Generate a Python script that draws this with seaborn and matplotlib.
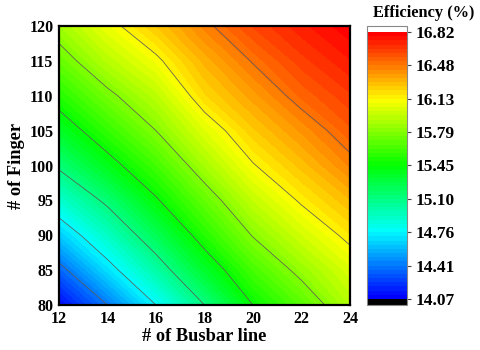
import numpy as np
import matplotlib
matplotlib.use("Agg")
import matplotlib.pyplot as plt
from matplotlib.colors import LinearSegmentedColormap, ListedColormap
import seaborn as sns

# ---- data ----
busbar = [12, 14, 16, 18, 20, 22, 24]
finger = [80, 85, 90, 95, 100, 105, 110, 115, 120]
efficiency = [
    [14.10, 14.41, 14.76, 15.10, 15.45, 15.67, 15.92],  # 80
    [14.35, 14.69, 15.00, 15.33, 15.62, 15.84, 16.03],  # 85
    [14.63, 14.92, 15.22, 15.53, 15.80, 16.00, 16.17],  # 90
    [14.89, 15.14, 15.43, 15.70, 15.96, 16.15, 16.30],  # 95
    [15.13, 15.38, 15.61, 15.88, 16.12, 16.28, 16.44],  # 100
    [15.34, 15.57, 15.79, 16.04, 16.25, 16.40, 16.55],  # 105
    [15.53, 15.75, 15.94, 16.21, 16.37, 16.53, 16.64],  # 110
    [15.71, 15.93, 16.10, 16.32, 16.49, 16.63, 16.73],  # 115
    [15.87, 16.08, 16.26, 16.45, 16.61, 16.72, 16.81],  # 120
]
cbar_ticks = [14.07, 14.41, 14.76, 15.10, 15.45, 15.79, 16.13, 16.48, 16.82]
cbar_labels = ["14.07", "14.41", "14.76", "15.10", "15.45", "15.79", "16.13", "16.48", "16.82"]
line_levels = cbar_ticks[1:-1]
xticks = [12, 14, 16, 18, 20, 22, 24]
yticks = [80, 85, 90, 95, 100, 105, 110, 115, 120]

sns.set_style("ticks")
plt.rcParams["font.family"] = ["Liberation Serif", "DejaVu Serif"]
plt.rcParams["font.weight"] = "bold"
plt.rcParams["text.color"] = "black"
plt.rcParams["axes.labelcolor"] = "black"

vmin, vmax = cbar_ticks[0], cbar_ticks[-1]
nb = 64
levels = np.linspace(vmin, vmax, nb + 1)
base = LinearSegmentedColormap.from_list(
    "rb", [(0, (0, 0, 1)), (0.25, (0, 1, 1)), (0.5, (0, 1, 0)),
           (0.75, (1, 1, 0)), (1.0, (1, 0, 0))])
cmap = ListedColormap(base(np.linspace(0, 1, nb)))
cmap.set_under("black")
cmap.set_over("white")

fig = plt.figure(figsize=(4.81, 3.5), dpi=100)
ax = fig.add_axes([59 / 481, 1 - 305 / 350, 291 / 481, 279 / 350])
cax = fig.add_axes([367 / 481, 1 - 305 / 350, 40 / 481, 279 / 350])

X, Y = np.meshgrid(busbar, finger)
Z = np.array(efficiency)
cf = ax.contourf(X, Y, Z, levels=levels, cmap=cmap, extend="both")
ax.contour(X, Y, Z, levels=line_levels, colors="#5a5a5a", linewidths=0.55)

ax.set_xlim(12, 24)
ax.set_ylim(80, 120)
ax.set_xticks(xticks)
ax.set_yticks(yticks)
ax.set_xticks(np.arange(13, 24, 2), minor=True)
ax.set_yticks(np.arange(82.5, 120, 5), minor=True)
ax.tick_params(which="both", direction="in", top=True, right=True,
               labelsize=11.5, width=1.3, colors="black", labelcolor="black")
ax.tick_params(which="major", length=5, pad=4)
ax.tick_params(which="minor", length=3)
for lab in ax.get_xticklabels() + ax.get_yticklabels():
    lab.set_fontweight("bold")
for s in ax.spines.values():
    s.set_linewidth(1.6)
    s.set_color("black")
ax.set_xlabel("# of Busbar line", fontsize=13.2, fontweight="bold", labelpad=1,
              color="black")
ax.set_ylabel("# of Finger", fontsize=13.2, fontweight="bold", labelpad=3,
              color="black")

cb = fig.colorbar(cf, cax=cax, extend="both", extendrect=True,
                  extendfrac=0.0225, drawedges=False)
cb.set_ticks(cbar_ticks)
cb.set_ticklabels(cbar_labels)
cb.outline.set_edgecolor("#888888")
cb.outline.set_linewidth(0.8)
cax.tick_params(labelsize=12.5, direction="out", length=3, width=0.8,
                colors="#444444", labelcolor="black", pad=3)
for lab in cax.get_yticklabels():
    lab.set_fontweight("bold")
cax.minorticks_off()

fig.text(424 / 481, 1 - 13 / 350, "Efficiency (%)", ha="center", va="center",
         fontsize=11.8, fontweight="bold", color="black")

fig.savefig("out.png", dpi=100)
